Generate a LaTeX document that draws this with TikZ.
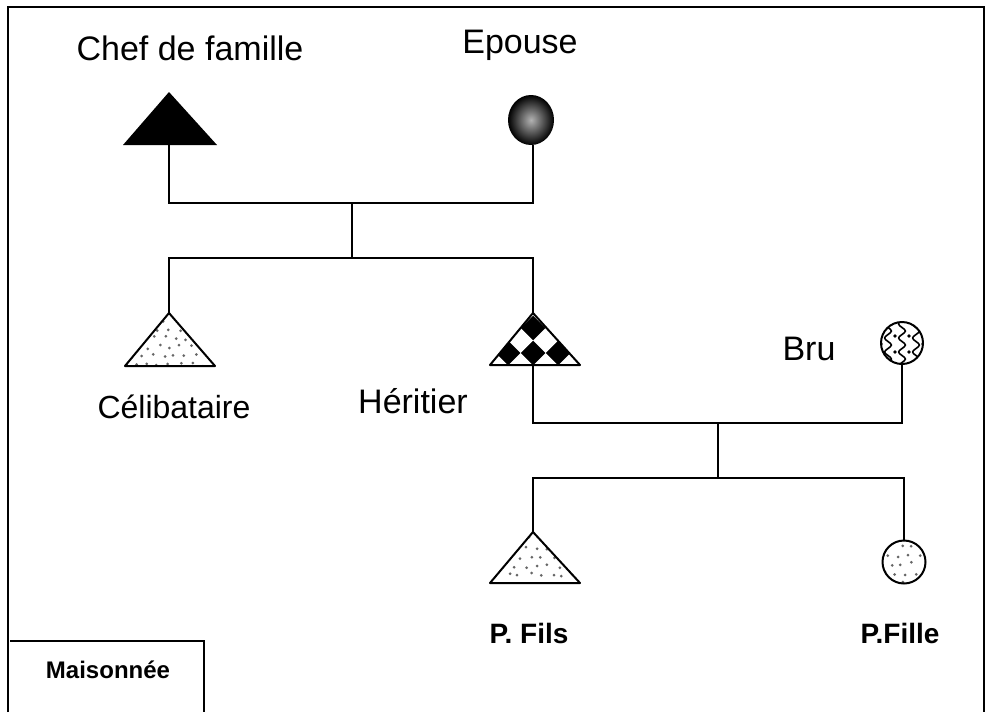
\documentclass[tikz,border=0pt]{standalone}
\usepackage{fontspec}
\setmainfont{Liberation Sans}
\tikzset{
  conn/.style={line width=2pt, line join=miter},
  shapeline/.style={line width=2pt, line join=round},
  lbl/.style={inner sep=0pt, anchor=base, font=\fontsize{34}{34}\selectfont},
  blbl/.style={inner sep=0pt, anchor=base, font=\bfseries\fontsize{28}{28}\selectfont},
  dotc/.style={fill=black!60},
}
\newcommand{\mydots}[4]{% x0 y0 x1 y1
  \pgfmathtruncatemacro{\nrows}{((#4)-(#2))/9}
  \pgfmathtruncatemacro{\ncols}{((#3)-(#1))/11}
  \foreach \r in {0,...,\nrows}{
    \foreach \c in {0,...,\ncols}{
      \pgfmathsetmacro{\jx}{#1+11*\c+mod(\r,2)*5.5+rand*2.5}
      \pgfmathsetmacro{\jy}{#2+9*\r+rand*2}
      \fill[dotc] (\jx,\jy) circle (1.5);
    }
  }
}
\begin{document}
\begin{tikzpicture}[x=1pt,y=-1pt]
\pgfmathsetseed{7}
\useasboundingbox (0,0) rectangle (987,712);
\fill[white] (0,0) rectangle (987,712);
% outer frame
\draw[line width=1.2pt] (8,712) -- (8,7) -- (984,7) -- (984,712);
% Maisonnee box
\draw[line width=1.4pt] (10,641) -- (204,641) -- (204,712);
\node[inner sep=0pt, anchor=base, font=\bfseries\fontsize{24}{24}\selectfont] (maison) at (108,678) {Maisonnée};

% ---- Chef de famille (black triangle)
\fill[black] (123,145) -- (169,92) -- (217,145) -- cycle;
\coordinate (chefB) at (169,145);
\node[lbl] (chefT) at (190,60) {Chef de famille};

% ---- Epouse (shaded circle)
\shade[inner color=black!30, outer color=black, shading=radial] (531,120) ellipse (23 and 25);
\coordinate (epB) at (533,145);
\node[lbl] (epT) at (520,53) {Epouse};

% generation 1 connectors
\coordinate (j1) at (352,203);
\coordinate (j2) at (352,258);
\draw[conn] (chefB) |- (j1) -| (epB);
\draw[conn] (j1) -- (j2);

% ---- Celibataire (dotted triangle)
\begin{scope}
\clip (125,366) -- (169,313) -- (215,366) -- cycle;
\mydots{120}{320}{220}{366}
\end{scope}
\draw[shapeline] (125,366) -- (169,313) -- (215,366) -- cycle;
\coordinate (celA) at (169,313);
\node[lbl, font=\fontsize{32}{32}\selectfont] (celT) at (174,418) {Célibataire};

% ---- Heritier (checkered triangle)
\begin{scope}
\clip (490,365) -- (533,313) -- (580,365) -- cycle;
\fill[black] (480,300) rectangle (590,370);
\foreach \cx in {445.5,470.5,...,620.5}{
  \foreach \cy in {315.5,340.5,365.5}{
    \fill[white] (\cx-12.5,\cy) -- (\cx,\cy-12.5) -- (\cx+12.5,\cy) -- (\cx,\cy+12.5) -- cycle;
  }
}
\end{scope}
\draw[shapeline] (490,365) -- (533,313) -- (580,365) -- cycle;
\coordinate (herA) at (533,313);
\coordinate (herB) at (533,365);
\node[lbl] (herT) at (413,413) {Héritier};

\draw[conn] (celA) |- (j2) -| (herA);

% ---- Bru (wavy circle)
\begin{scope}
\clip (902,343) circle (21);
\foreach \wx in {888,902,916}{
  \draw[line width=1.6pt, rounded corners=2.5pt] (\wx,318) -- (\wx-4.5,324) -- (\wx+4.5,331) -- (\wx-4.5,338) -- (\wx+4.5,345) -- (\wx-4.5,352) -- (\wx+4.5,359) -- (\wx-4.5,366) -- (\wx,370);
}
\foreach \dx/\dy in {895/336,909/336,895/352,909/352,881/344,923/344}{
  \fill (\dx,\dy) circle (1.8);
}
\end{scope}
\draw[shapeline] (902,343) circle (21);
\coordinate (bruB) at (902,364);
\node[lbl] (bruT) at (809,360) {Bru};

% generation 2 connectors
\coordinate (j3) at (718,423);
\coordinate (j4) at (718,478);
\draw[conn] (herB) |- (j3) -| (bruB);
\draw[conn] (j3) -- (j4);

% ---- Petit fils (dotted triangle)
\begin{scope}
\clip (490,583) -- (533,532) -- (580,583) -- cycle;
\mydots{486}{539}{585}{583}
\end{scope}
\draw[shapeline] (490,583) -- (533,532) -- (580,583) -- cycle;
\coordinate (pfA) at (533,532);
\node[blbl] (pfT) at (529,643) {P. Fils};

% ---- Petite fille (dotted circle)
\begin{scope}
\clip (904,562) circle (21.5);
\mydots{880}{546}{930}{586}
\end{scope}
\draw[shapeline] (904,562) circle (21.5);
\coordinate (pfiA) at (904,540.5);
\node[blbl] (pfiT) at (900,643) {P.Fille};

\draw[conn] (pfA) |- (j4) -| (pfiA);
\end{tikzpicture}
\end{document}
